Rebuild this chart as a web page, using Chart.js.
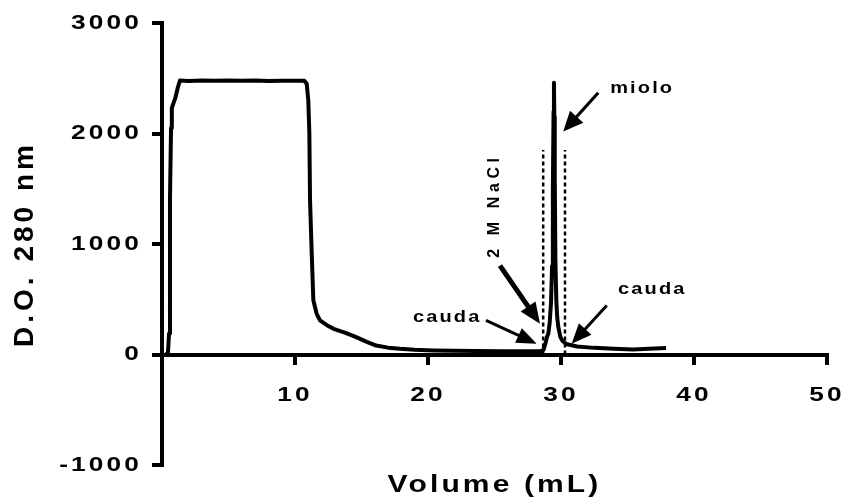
<!DOCTYPE html>
<html>
<head>
<meta charset="utf-8">
<script src="https://cdn.jsdelivr.net/npm/chart.js@4.4.1/dist/chart.umd.min.js"></script>
<style>
  html, body { margin: 0; padding: 0; background: #fff; }
  canvas { display: block; }
</style>
</head>
<body>
<canvas id="chart" width="842" height="500"></canvas>
<script>
// Elution profile: volume (mL) against absorbance at 280 nm
const volume = [
  0.30, 0.45, 0.53, 0.60, 0.68, 0.74, 0.85, 1.00, 1.20, 1.35,
  2.0, 3.0, 4.0, 5.0, 6.0, 7.0, 8.0, 9.0, 10.0, 10.7,
  10.88, 11.00, 11.08, 11.13, 11.25, 11.38, 11.63, 11.88, 12.4, 12.9,
  13.8, 14.6, 15.4, 16.1, 17.0, 17.9, 19.0, 20.4, 22.0, 25.4,
  28.0, 28.5, 28.7, 28.85, 28.95, 29.05, 29.15, 29.25, 29.33, 29.39,
  29.44, 29.47, 29.50, 29.53, 29.58, 29.65, 29.72, 29.80, 29.95, 30.1,
  30.4, 31.2, 32.5, 34.0, 35.4, 36.6, 37.9
];
const absorbance = [
  0, 20, 190, 1400, 2050, 2230, 2270, 2320, 2420, 2480,
  2476, 2479, 2477, 2480, 2477, 2479, 2476, 2478, 2477, 2478,
  2450, 2300, 2000, 1400, 940, 490, 368, 308, 265, 232,
  195, 157, 115, 81, 62, 51, 42, 36, 33, 30,
  30, 30, 45, 110, 160, 190, 290, 470, 800, 1500,
  2200, 2460, 2150, 1600, 850, 480, 330, 247, 160, 125,
  95, 72, 60, 52, 46, 52, 58
];

// Start and end of the 2 M NaCl step (dotted markers)
const saltWindow = [28.66, 30.3];
const saltMarkerTop = 1850;

const xTickValues = [10, 20, 30, 40, 50];
const yTickValues = [-1000, 0, 1000, 2000, 3000];

// Text notes, anchored in data units
const noteLabels = [
  { text: 'miolo', x: 33.7, y: 2368 },
  { text: 'cauda', x: 18.87, y: 292 },
  { text: 'cauda', x: 34.29, y: 549 },
  { text: '2 M NaCl', x: 25.04, y: 1348, vertical: true }
];
// Arrows: start point, tip point (data units)
const noteArrows = [
  { from: [32.8, 2368], to: [30.17, 2018], width: 3, head: 20, headWidth: 18 },
  { from: [25.41, 805], to: [28.42, 278], width: 5, head: 21, headWidth: 18 },
  { from: [24.36, 308], to: [28.17, 97], width: 3, head: 20, headWidth: 16 },
  { from: [33.44, 443], to: [30.8, 97], width: 3, head: 20, headWidth: 17 }
];

const FONT = '"Liberation Sans", Arial, Helvetica, sans-serif';
const TEXT_STRETCH = 1.25;
Chart.defaults.font.family = FONT;
Chart.defaults.font.weight = 'bold';
Chart.defaults.color = '#000';

// Horizontal text is drawn slightly widened; rotated text is left as is.
const wideText = {
  id: 'wideText',
  beforeInit(chart) {
    const ctx = chart.ctx;
    const fill = ctx.fillText.bind(ctx);
    ctx.fillText = function (text, x, y, maxWidth) {
      const m = ctx.getTransform();
      if (Math.abs(m.b) > 1e-6 || Math.abs(m.c) > 1e-6) {
        return maxWidth === undefined ? fill(text, x, y) : fill(text, x, y, maxWidth);
      }
      ctx.save();
      ctx.translate(x, y);
      ctx.scale(TEXT_STRETCH, 1);
      fill(text, 0, 0);
      ctx.restore();
    };
  }
};

// Letter spacing for tick labels and axis titles
function spaced(fn, spacing) {
  return function (...args) {
    const ctx = this.ctx;
    const prev = ctx.letterSpacing;
    ctx.letterSpacing = spacing;
    fn.apply(this, args);
    ctx.letterSpacing = prev;
  };
}
const spacedText = {
  id: 'spacedText',
  beforeDraw(chart, args, opts) {
    chart.ctx.letterSpacing = opts.ticks;
    for (const [id, sp] of Object.entries(opts.titles)) {
      const s = chart.scales[id];
      if (s && !s.__spaced) {
        s.drawTitle = spaced(s.drawTitle, sp);
        s.__spaced = true;
      }
    }
  }
};

function drawArrow(ctx, x1, y1, x2, y2, lw, headLen, headW) {
  const ang = Math.atan2(y2 - y1, x2 - x1);
  const cos = Math.cos(ang), sin = Math.sin(ang);
  const bx = x2 - headLen * cos, by = y2 - headLen * sin;
  ctx.lineWidth = lw;
  ctx.lineCap = 'butt';
  ctx.beginPath();
  ctx.moveTo(x1, y1);
  ctx.lineTo(x2 - headLen * 0.7 * cos, y2 - headLen * 0.7 * sin);
  ctx.stroke();
  const nx = -sin * headW / 2, ny = cos * headW / 2;
  ctx.beginPath();
  ctx.moveTo(x2, y2);
  ctx.lineTo(bx + nx, by + ny);
  ctx.lineTo(bx - nx, by - ny);
  ctx.closePath();
  ctx.fill();
}

const notesPlugin = {
  id: 'notes',
  afterDatasetsDraw(chart) {
    const { ctx, scales: { x, y } } = chart;
    ctx.save();
    ctx.fillStyle = '#000';
    ctx.strokeStyle = '#000';
    for (const a of noteArrows) {
      drawArrow(ctx,
        x.getPixelForValue(a.from[0]), y.getPixelForValue(a.from[1]),
        x.getPixelForValue(a.to[0]), y.getPixelForValue(a.to[1]),
        a.width, a.head, a.headWidth);
    }
    for (const n of noteLabels) {
      const px = x.getPixelForValue(n.x), py = y.getPixelForValue(n.y);
      ctx.save();
      if (n.vertical) {
        ctx.font = 'bold 16px ' + FONT;
        ctx.letterSpacing = '4.6px';
        ctx.translate(px, py);
        ctx.rotate(-Math.PI / 2);
        ctx.textAlign = 'center';
        ctx.textBaseline = 'middle';
        ctx.fillText(n.text, 0, 0);
      } else {
        ctx.font = 'bold 16px ' + FONT;
        ctx.letterSpacing = '1.7px';
        ctx.textAlign = 'left';
        ctx.textBaseline = 'alphabetic';
        ctx.fillText(n.text, px, py);
      }
      ctx.restore();
    }
    ctx.restore();
  }
};

const lineStyle = {
  borderColor: '#000',
  pointRadius: 0,
  tension: 0,
  fill: false,
  borderJoinStyle: 'round'
};

new Chart(document.getElementById('chart'), {
  type: 'line',
  data: {
    datasets: [
      {
        ...lineStyle,
        borderWidth: 4,
        data: volume.map((v, i) => ({ x: v, y: absorbance[i] }))
      },
      ...saltWindow.map(v => ({
        ...lineStyle,
        borderWidth: 2.5,
        borderDash: [4, 3],
        data: [{ x: v, y: 0 }, { x: v, y: saltMarkerTop }]
      }))
    ]
  },
  options: {
    responsive: false,
    animation: false,
    devicePixelRatio: 1,
    layout: { padding: { left: 0, top: 23, right: 15, bottom: 0.6 } },
    plugins: {
      legend: { display: false },
      tooltip: { enabled: false },
      spacedText: { ticks: '2.5px', titles: { y: '4px', x2: '2.5px' } }
    },
    scales: {
      x: {
        type: 'linear',
        min: 0,
        max: 50,
        position: { y: 0 },
        afterBuildTicks: s => { s.ticks = xTickValues.map(v => ({ value: v })); },
        afterFit: s => { s.paddingLeft = 0; s.paddingRight = 0; },
        grid: { display: true, drawOnChartArea: false, drawTicks: true, tickLength: 8, lineWidth: 4, tickWidth: 4, tickColor: '#000' },
        border: { display: true, color: '#000', width: 4 },
        ticks: {
          padding: 20,
          maxRotation: 0,
          autoSkip: false,
          font: { size: 21, weight: 'bold' },
          color: '#000',
          callback: v => String(v)
        }
      },
      x2: {
        type: 'linear',
        axis: 'x',
        min: 0,
        max: 50,
        position: 'bottom',
        display: true,
        grid: { display: false, drawTicks: false },
        border: { display: false },
        ticks: { display: false },
        title: {
          display: true,
          text: 'Volume (mL)',
          font: { size: 24, weight: 'bold' },
          color: '#000',
          padding: { top: 5.6, bottom: 0 }
        }
      },
      y: {
        type: 'linear',
        min: -1000,
        max: 3000,
        position: 'left',
        afterBuildTicks: s => { s.ticks = yTickValues.map(v => ({ value: v })); },
        afterFit: s => { s.width = 162; s.paddingTop = 0; s.paddingBottom = 0; },
        grid: { display: true, drawOnChartArea: false, drawTicks: true, tickLength: 10, lineWidth: 4, tickWidth: 4, tickColor: '#000' },
        border: { display: true, color: '#000', width: 4 },
        ticks: {
          padding: 10,
          font: { size: 21, weight: 'bold' },
          color: '#000',
          callback: v => String(v)
        },
        title: {
          display: true,
          text: 'D.O. 280 nm',
          font: { size: 28, weight: 'bold' },
          color: '#000',
          padding: { top: 8, bottom: 0 }
        }
      }
    }
  },
  plugins: [wideText, spacedText, notesPlugin]
});
</script>
</body>
</html>
